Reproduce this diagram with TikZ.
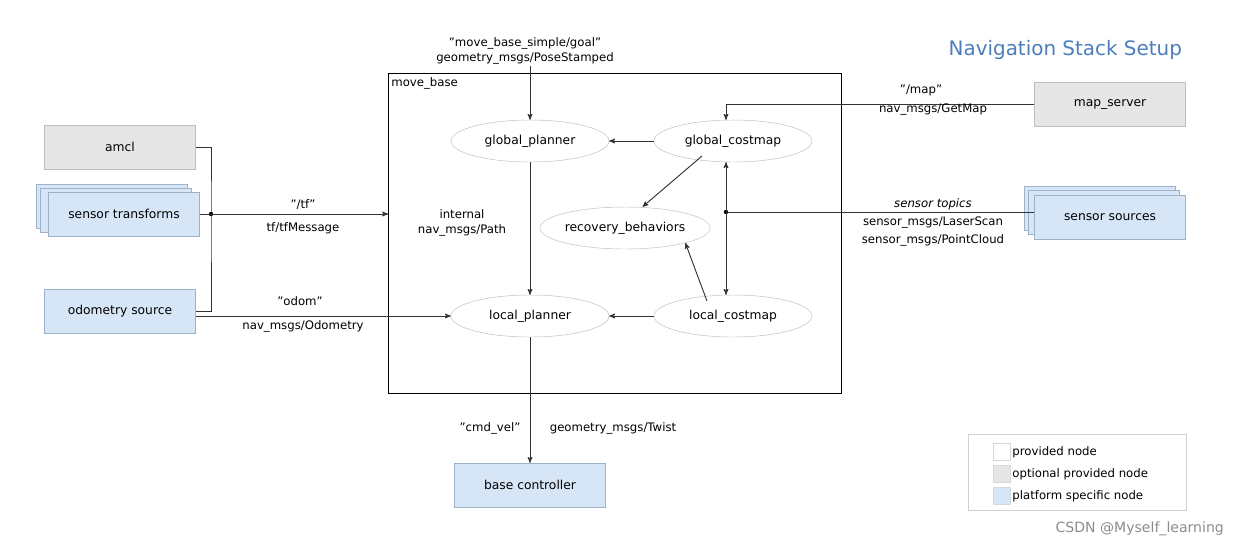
\documentclass[tikz,border=0pt]{standalone}
\usepackage{fontspec}
\setmainfont{DejaVu Sans}
\usetikzlibrary{arrows,shapes.geometric}
\definecolor{BoxBlue}{HTML}{D6E6F7}
\definecolor{BoxBlueLine}{HTML}{9DB3CC}
\definecolor{BoxGray}{HTML}{E6E6E6}
\definecolor{BoxGrayLine}{HTML}{BDBDBD}
\definecolor{TitleBlue}{HTML}{4A7EBB}

\tikzset{
  box/.style={draw, minimum width=151*0.03cm, minimum height=44*0.03cm, inner sep=0pt},
  platform/.style={box, fill=BoxBlue, draw=BoxBlueLine},
  optional/.style={box, fill=BoxGray, draw=BoxGrayLine},
  task/.style={ellipse, draw=BoxGrayLine, fill=white, minimum width=158*0.03cm, minimum height=42*0.03cm, inner sep=0pt},
  lbl/.style={font=\fontsize{10}{12}\selectfont, inner sep=1pt, align=center},
  key/.style={draw=BoxGrayLine!60, minimum size=17*0.03cm, inner sep=0pt},
  flow/.style={->,>=stealth',thick,black!80}
}

\begin{document}
\begin{tikzpicture}[x=0.03cm,y=-0.03cm,font=\fontsize{10.5}{12}\selectfont]
\useasboundingbox (0,0) rectangle (1243,549);

\node[anchor=east, text=TitleBlue, font=\fontsize{17}{20}\selectfont] (title) at (1186,50) {Navigation Stack Setup};

% move_base frame
\draw[thick] (388,73) rectangle (841,393);
\node[lbl, anchor=north west] (mb) at (390,76) {move\_base};

% left side inputs
\node[optional] (amcl) at (120,147) {amcl};
\node[platform] (stf3) at (112,206) {};
\node[platform] (stf2) at (116,210) {};
\node[platform] (stf) at (124,214) {sensor transforms};
\node[platform] (odom) at (120,311) {odometry source};

% right side inputs
\node[optional] (map) at (1110,104) {map\_server};
\node[platform] (src3) at (1100,208) {};
\node[platform] (src2) at (1104,212) {};
\node[platform] (src) at (1110,217) {sensor sources};

\node[platform] (base) at (530,485) {base controller};

% move_base internals
\node[task] (gp) at (530,141) {global\_planner};
\node[task] (gc) at (733,141) {global\_costmap};
\node[task] (rb) at (625,228) {recovery\_behaviors};
\node[task] (lp) at (530,316) {local\_planner};
\node[task] (lc) at (733,316) {local\_costmap};

% tf
\coordinate (tfj) at (211,214);
\draw[thick,black!80] (amcl.east) -| (tfj) |- (odom.east);
\fill (tfj) circle (2.2);
\draw[flow] (stf.east) -- (388,214);
\node[lbl] (tfa) at (303,205) {"/tf"};
\node[lbl] (tfb) at (303,228) {tf/tfMessage};

% odometry
\draw[flow] (odom.east |- lp.west) -- (lp.west);
\node[lbl] (oda) at (300,301) {"odom"};
\node[lbl] (odb) at (303,326) {nav\_msgs/Odometry};

% goal
\coordinate (goal) at (530,66);
\draw[flow] (goal) -- (gp.north);
\node[lbl] (ga) at (525,43) {"move\_base\_simple/goal"};
\node[lbl] (gb) at (525,58) {geometry\_msgs/PoseStamped};

% internal
\draw[flow] (gc) -- (gp);
\draw[flow] (gp) -- (lp);
\draw[flow] (lc) -- (lp);
\draw[flow] (gc.south west) ++(25,0) -- ([xshift=15]rb.north);
\draw[flow] (lc.north west) ++(30,0) -- (rb.south east);
\node[lbl] (pa) at (462,214) {internal};
\node[lbl] (pb) at (462,230) {nav\_msgs/Path};

% map
\coordinate (mapc) at (726,104);
\draw[flow] (map.west) -- (mapc) -- (mapc |- gc.north);
\node[lbl] (ma) at (921,90) {"/map"};
\node[lbl] (mb2) at (933,110) {nav\_msgs/GetMap};

% sensors
\coordinate (sj) at (726,212);
\draw[thick,black!80] (src.west |- sj) -- (sj);
\fill (sj) circle (2.2);
\draw[<->,>=stealth',thick,black!80] (sj |- gc.south) -- (sj |- lc.north);
\node[lbl, font=\fontsize{10}{12}\itshape] (sa) at (933,204) {sensor topics};
\node[lbl] (sb) at (933,223) {sensor\_msgs/LaserScan};
\node[lbl] (sc) at (933,240) {sensor\_msgs/PointCloud};

% cmd_vel
\draw[flow] (lp.south) -- (base.north);
\node[lbl] (ca) at (490,428) {"cmd\_vel"};
\node[lbl] (cb) at (613,428) {geometry\_msgs/Twist};

% legend
\draw[BoxGrayLine!70] (968,434) rectangle (1186,510);
\node[key, fill=white] (k1) at (1002,452) {};
\node[key, fill=BoxGray] (k2) at (1002,474) {};
\node[key, fill=BoxBlue] (k3) at (1002,496) {};
\node[lbl, anchor=west] (l1) at (1011,452) {provided node};
\node[lbl, anchor=west] (l2) at (1011,474) {optional provided node};
\node[lbl, anchor=west] (l3) at (1011,496) {platform specific node};

\node[anchor=east, text=black!45, font=\fontsize{12}{14}\selectfont] (wm) at (1228,529) {CSDN @Myself\_learning};
\end{tikzpicture}
\end{document}
